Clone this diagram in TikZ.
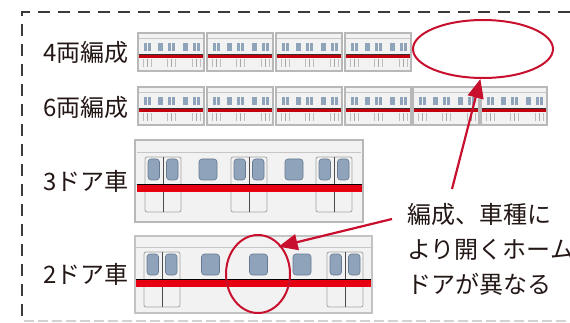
\documentclass[tikz,border=0pt]{standalone}
\usepackage{fontspec}
\newfontfamily\jp{Noto Sans CJK JP}
\usetikzlibrary{shapes.geometric,arrows.meta}

\definecolor{inkc}{HTML}{231815}
\definecolor{framec}{HTML}{3A3A3A}
\definecolor{markred}{HTML}{C8102E}
\definecolor{stripered}{HTML}{E60012}
\definecolor{bodyfill}{HTML}{F2F2F2}
\definecolor{bodyline}{HTML}{B8B8B8}
\definecolor{glass}{HTML}{8FA4BA}
\definecolor{glassline}{HTML}{667A90}
\definecolor{doorline}{HTML}{A3A3A3}

\tikzset{
  label/.style={font=\jp\fontsize{24}{28}\selectfont, text=inkc, inner sep=0pt, anchor=east},
  ring/.style={ellipse, draw=markred, line width=2pt, inner sep=0pt},
  callout/.style={draw=markred, line width=2.2pt,
    -{Triangle[length=19pt,width=16pt]}},
  pane/.style={fill=glass, draw=glassline, line width=0.6pt, rounded corners=3pt},
  % small car of a consist, origin at top left, 66 x 38
  minicar/.pic={
    \draw[fill=bodyfill, draw=bodyline, line width=2pt] (0,0) rectangle (66,38);
    \draw[gray!45, line width=0.6pt] (1,5) -- (65,5);
    \foreach \a/\b in {6/9.2,10/13,20/25,30/33.2,34/37,45/50,55/58.2,59/62}
      \fill[glass] (\a,10) rectangle (\b,18);
    \draw[black!80, line width=0.6pt] (1,21.5) -- (65,21.5);
    \fill[stripered!85!black] (1,22) rectangle (65,24.6);
    \foreach \d in {9.5,33.5,58.5}{
      \draw[doorline!70, line width=0.4pt] (\d-4,26) -- (\d-4,34) (\d+4,26) -- (\d+4,34);
      \draw[gray!70, line width=0.4pt] (\d,26) -- (\d,34);
    }
  },
  % pair of doors, origin at top centre
  doorpair/.pic={
    \draw[doorline, line width=0.8pt, rounded corners=2pt] (-18,0) rectangle (18,55);
    \draw[black!70, line width=0.8pt] (0,0) -- (0,55);
    \draw[pane] (-15,2) rectangle (-3.5,23);
    \draw[pane] (3.5,2) rectangle (15,23);
  },
  % single side window, origin at top centre
  sidewin/.pic={
    \draw[pane] (-9,2) rectangle (9,23);
  }
}

\begin{document}
\begin{tikzpicture}[x=1pt,y=-1pt]
\useasboundingbox (0,0) rectangle (570,323);

% dashed frame
\draw[framec, line width=2.2pt, dash pattern=on 12pt off 8pt] (570,12) -- (22,12) -- (22,330);
\draw[gray!35, line width=1.2pt, dash pattern=on 10pt off 4pt] (24,321) -- (570,321);

% row labels
\node[label] (l4) at (129,52) {4両編成};
\node[label] (l6) at (129,107) {6両編成};
\node[label] (l3) at (129,181) {3ドア車};
\node[label] (l2) at (129,274) {2ドア車};

% four-car consist
\foreach \x in {138,207,276,345}
  \pic at (\x,33) {minicar};
% six-car consist
\foreach \x in {138,207,276,345,413,481}
  \pic at (\x,87) {minicar};

% three-door car
\draw[fill=bodyfill, draw=bodyline, line width=2.5pt] (135,140) rectangle (363,222);
\draw[gray!45, line width=0.8pt] (137,152.5) -- (361,152.5);
\foreach \c in {163,249,334} \pic at (\c,157) {doorpair};
\foreach \c in {208,294} \pic at (\c,157) {sidewin};
\draw[black, line width=1.3pt] (136.5,184.6) -- (361.5,184.6);
\fill[stripered] (136.5,185.2) rectangle (361.5,192);

% two-door car
\draw[fill=bodyfill, draw=bodyline!85, line width=1.8pt] (135,236) rectangle (372,313);
\draw[gray!45, line width=0.8pt] (136,247) -- (371,247);
\foreach \c in {162,345} \pic at (\c,252) {doorpair};
\foreach \c in {210.5,258.5,302} \pic at (\c,252) {sidewin};
\draw[black, line width=1.3pt] (136,279.8) -- (371,279.8);
\fill[stripered] (136,280.4) rectangle (371,287);

% highlight rings
\node[ring, minimum width=140pt, minimum height=58pt] (ring4) at (483,49) {};
\node[ring, minimum width=64pt, minimum height=78pt] (ring2) at (258,274) {};

% note
\node[font=\jp\fontsize{24}{35}\selectfont, text=inkc, align=left, inner sep=0pt, anchor=west]
  (note) at (407,249) {編成、車種に\\より開くホーム\\ドアが異なる};

% callout arrows
\coordinate (tail1) at (452,189);
\coordinate (tail2) at (392,219);
\draw[callout] (tail1) -- (ring4.265);
\draw[callout, shorten >=-3pt] (tail2) -- (ring2.50);
\end{tikzpicture}
\end{document}
